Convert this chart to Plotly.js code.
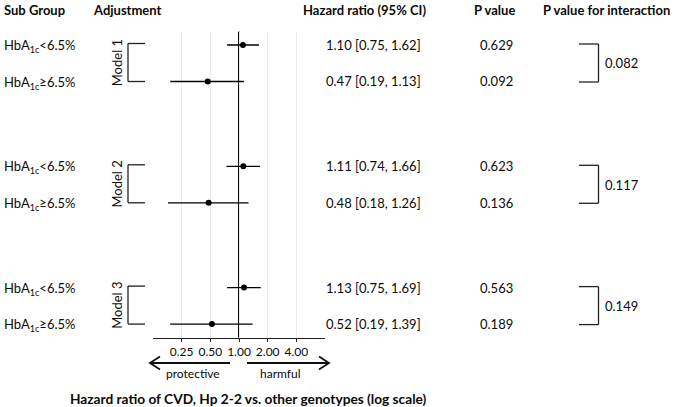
<!DOCTYPE html>
<html>
<head>
<meta charset="utf-8">
<script src="https://cdn.plot.ly/plotly-3.0.1.min.js"></script>
<style>html,body{margin:0;padding:0;background:#fff;}#chart{width:681px;height:407px;}</style>
</head>
<body>
<div id="chart"></div>
<script>
// ---- data ----
const subgroups = ['HbA<sub>1c</sub>&lt;6.5%', 'HbA<sub>1c</sub>≥6.5%',
                   'HbA<sub>1c</sub>&lt;6.5%', 'HbA<sub>1c</sub>≥6.5%',
                   'HbA<sub>1c</sub>&lt;6.5%', 'HbA<sub>1c</sub>≥6.5%'];
const models = ['Model 1', 'Model 2', 'Model 3'];
const hazardRatio = [1.10, 0.47, 1.11, 0.48, 1.13, 0.52];
const ciLower = [0.75, 0.19, 0.74, 0.18, 0.75, 0.19];
const ciUpper = [1.62, 1.13, 1.66, 1.26, 1.69, 1.39];
const pValues = ['0.629', '0.092', '0.623', '0.136', '0.563', '0.189'];
const pInteraction = ['0.082', '0.117', '0.149'];
const tickVals = [0.25, 0.5, 1, 2, 4];
const tickText = ['0.25', '0.50', '1.00', '2.00', '4.00'];
const headers = ['Sub Group', 'Adjustment', 'Hazard ratio (95% CI)', 'P value', 'P value for interaction'];
const xTitle = 'Hazard ratio of CVD, Hp 2-2 vs. other genotypes (log scale)';
const directionLabels = ['protective', 'harmful'];

// ---- layout helpers (pixel -> paper) ----
const W = 681, H = 407;
const px = x => x / W;
const py = y => 1 - y / H;
const rowY = i => 45 + Math.floor(i / 2) * 121.3 + (i % 2) * 36.5;
const FONT = 'Lato, "Open Sans", sans-serif';
const plotTop = 31.5, plotBottom = 337.7;
const INK = '#0a0a0a';

const rows = hazardRatio.map((_, i) => rowY(i));

const traces = [{
  type: 'scatter', mode: 'markers',
  x: hazardRatio, y: rows,
  marker: {color: '#000', size: 6},
  error_x: {
    type: 'data', symmetric: false,
    array: hazardRatio.map((v, i) => ciUpper[i] - v),
    arrayminus: hazardRatio.map((v, i) => v - ciLower[i]),
    width: 0, thickness: 1.3, color: '#000'
  },
  cliponaxis: false, hoverinfo: 'skip', showlegend: false
}];

const ann = [];
const shapes = [];
const txt = (text, x, y, o = {}) => ann.push(Object.assign({
  text, x: px(x), y: py(y), xref: 'paper', yref: 'paper', showarrow: false,
  xanchor: 'left', yanchor: 'middle',
  font: {family: FONT, size: 13, color: INK}
}, o));
const line = (x0, y0, x1, y1, w = 1.3) => shapes.push({
  type: 'line', xref: 'paper', yref: 'paper',
  x0: px(x0), y0: py(y0), x1: px(x1), y1: py(y1),
  line: {color: '#222', width: w}
});

// headers
const hb = {font: {family: FONT, size: 13, color: INK}};
txt('<b>' + headers[0] + '</b>', 1.5, 10, hb);
txt('<b>' + headers[1] + '</b>', 90.5, 10, hb);
txt('<b>' + headers[2] + '</b>', 428, 10, Object.assign({xanchor: 'right'}, hb));
txt('<b>' + headers[3] + '</b>', 494, 10, Object.assign({xanchor: 'center'}, hb));
txt('<b>' + headers[4] + '</b>', 606, 10, Object.assign({xanchor: 'center'}, hb));

// rows
rows.forEach((y, i) => {
  txt(subgroups[i], 1.5, y + 1);
  txt(hazardRatio[i].toFixed(2) + ' [' + ciLower[i].toFixed(2) + ', ' + ciUpper[i].toFixed(2) + ']',
      423, y, {xanchor: 'right'});
  txt(pValues[i], 496, y, {xanchor: 'center'});
});

// model brackets + interaction brackets
models.forEach((m, g) => {
  const y1 = rows[2 * g], y2 = rows[2 * g + 1];
  const mid = (y1 + y2) / 2;
  txt(m, 117, mid, {xanchor: 'center', textangle: -90});
  line(128, y1 - 1.5, 145, y1 - 1.5);
  line(128, y1 - 1.5, 128, y2);
  line(128, y2, 145, y2);
  line(579, y1 - 1, 598.5, y1 - 1);
  line(598.5, y1 - 1, 598.5, y2 + 0.5);
  line(579, y2 + 0.5, 598.5, y2 + 0.5);
  txt(pInteraction[g], 603, mid);
});

// reference line at HR = 1
shapes.push({type: 'line', xref: 'x', yref: 'y', x0: 1, x1: 1, y0: plotTop, y1: plotBottom,
  line: {color: '#000', width: 2}, layer: 'below'});

// direction arrows
shapes.push({type: 'path', xref: 'paper', yref: 'paper',
  path: `M${px(230)},${py(363)} L${px(150)},${py(363)} M${px(160)},${py(356.5)} L${px(150)},${py(363)} L${px(160)},${py(369.5)}`,
  line: {color: '#111', width: 1.8}});
shapes.push({type: 'path', xref: 'paper', yref: 'paper',
  path: `M${px(247)},${py(363)} L${px(329)},${py(363)} M${px(319)},${py(356.5)} L${px(329)},${py(363)} L${px(319)},${py(369.5)}`,
  line: {color: '#111', width: 1.8}});
txt(directionLabels[0], 193, 373, {xanchor: 'center', font: {family: FONT, size: 12, color: INK}});
txt(directionLabels[1], 280, 373, {xanchor: 'center', font: {family: FONT, size: 12, color: INK}});

// x title
txt('<b>' + xTitle + '</b>', 248, 398.5, {xanchor: 'center', font: {family: FONT, size: 13.7, color: INK}});

const layout = {
  width: W, height: H,
  margin: {l: 0, r: 0, t: 0, b: 0, pad: 0},
  paper_bgcolor: '#fff', plot_bgcolor: 'rgba(0,0,0,0)',
  font: {family: FONT, size: 13, color: INK},
  showlegend: false,
  xaxis: {
    type: 'log', domain: [px(152.9), px(325.1)],
    range: [Math.log10(0.125), Math.log10(8)],
    tickvals: tickVals, ticktext: tickText,
    ticks: 'outside', ticklen: 3, tickwidth: 1, tickcolor: '#222',
    showline: true, linecolor: '#222', linewidth: 1.3,
    showgrid: true, gridcolor: '#ebebeb', gridwidth: 1,
    tickfont: {family: FONT, size: 12, color: INK},
    fixedrange: true, anchor: 'y'
  },
  yaxis: {
    domain: [py(plotBottom), py(plotTop)],
    range: [plotBottom, plotTop],
    visible: false, showgrid: false, zeroline: false, fixedrange: true
  },
  shapes: shapes,
  annotations: ann
};

Plotly.newPlot('chart', traces, layout, {staticPlot: true, displayModeBar: false});
</script>
</body>
</html>
